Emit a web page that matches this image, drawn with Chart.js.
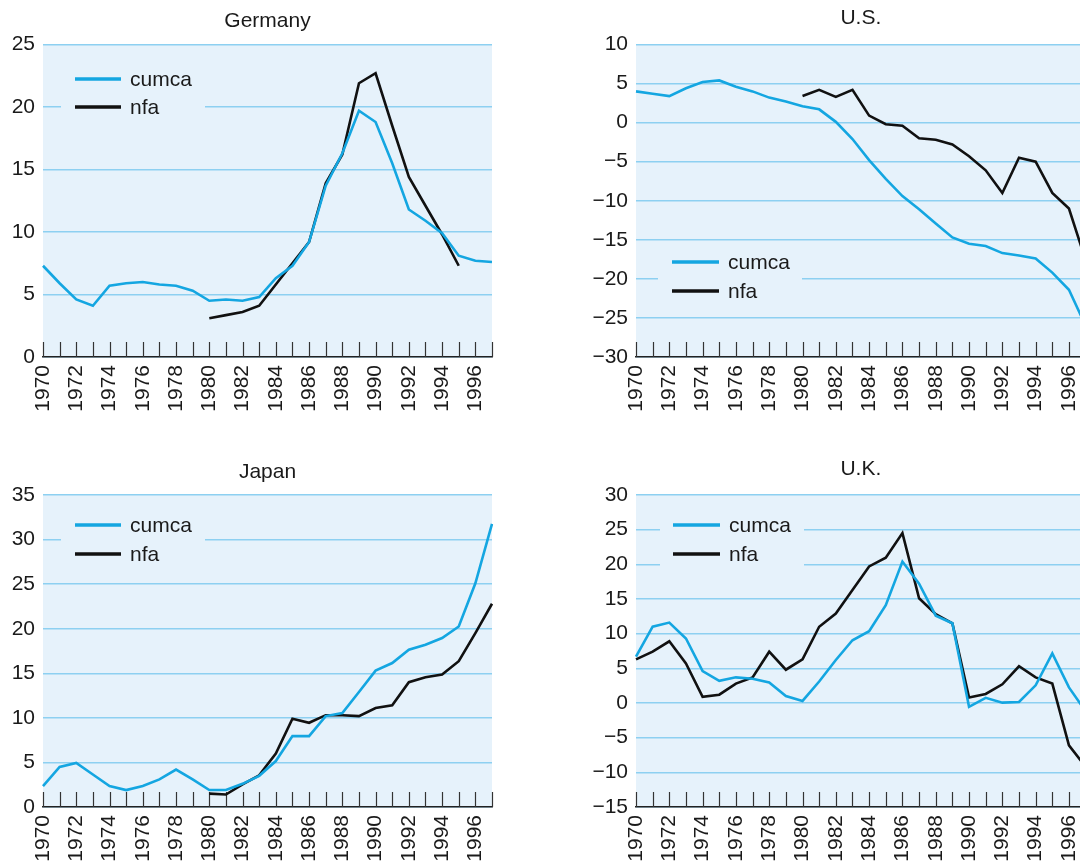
<!DOCTYPE html>
<html>
<head>
<meta charset="utf-8">
<script src="https://cdn.jsdelivr.net/npm/chart.js@4"></script>
<style>
html, body { margin:0; padding:0; background:#fff; width:1080px; height:863px; overflow:hidden; }
canvas { position:absolute; }
</style>
</head>
<body>
<canvas id="de" width="540" height="430" style="left:0;top:0"></canvas>
<canvas id="us" width="560" height="430" style="left:540px;top:0"></canvas>
<canvas id="jp" width="540" height="430" style="left:0;top:450px"></canvas>
<canvas id="uk" width="560" height="430" style="left:540px;top:450px"></canvas>
<script>
// ---- data ----
const years = ['1970','1971','1972','1973','1974','1975','1976','1977','1978','1979',
               '1980','1981','1982','1983','1984','1985','1986','1987','1988','1989',
               '1990','1991','1992','1993','1994','1995','1996','1997'];
const seriesNames = ['cumca', 'nfa'];
const panelTitles = ['Germany', 'U.S.', 'Japan', 'U.K.'];

const germanyCumca = [7.3, 5.9, 4.6, 4.1, 5.7, 5.9, 6.0, 5.8, 5.7, 5.3,
                      4.5, 4.6, 4.5, 4.8, 6.3, 7.3, 9.2, 13.7, 16.3, 19.7,
                      18.8, 15.5, 11.8, 10.9, 9.9, 8.1, 7.7, 7.6];
const germanyNfa   = [null, null, null, null, null, null, null, null, null, null,
                      3.1, 3.35, 3.6, 4.1, 5.8, 7.5, 9.2, 13.9, 16.2, 21.9,
                      22.7, 18.5, 14.4, 12.1, 9.8, 7.3, null, null];

const usCumca = [4.0, 3.7, 3.4, 4.4, 5.2, 5.4, 4.6, 4.0, 3.2, 2.7,
                 2.1, 1.7, 0.1, -2.1, -4.8, -7.2, -9.4, -11.1, -12.9, -14.7,
                 -15.5, -15.8, -16.7, -17.0, -17.4, -19.2, -21.4, -26.0];
const usNfa   = [null, null, null, null, null, null, null, null, null, null,
                 3.4, 4.2, 3.3, 4.2, 0.9, -0.2, -0.4, -2.0, -2.2, -2.8,
                 -4.3, -6.1, -9.0, -4.5, -5.0, -9.0, -11.0, -17.6];

const japanCumca = [2.35, 4.5, 4.95, 3.65, 2.35, 1.9, 2.35, 3.1, 4.2, 3.1,
                    1.9, 1.9, 2.6, 3.5, 5.15, 7.95, 7.95, 10.2, 10.55, 12.9,
                    15.3, 16.15, 17.65, 18.2, 18.95, 20.25, 25.1, 31.75];
const japanNfa   = [null, null, null, null, null, null, null, null, null, null,
                    1.5, 1.4, 2.55, 3.55, 6.0, 9.9, 9.45, 10.3, 10.3, 10.2,
                    11.1, 11.4, 14.0, 14.55, 14.85, 16.35, 19.5, 22.8];

const ukCumca = [6.7, 11.0, 11.6, 9.3, 4.6, 3.2, 3.7, 3.5, 2.95, 1.0,
                 0.3, 3.1, 6.2, 9.05, 10.35, 14.1, 20.4, 17.2, 12.6, 11.5,
                 -0.55, 0.75, 0.05, 0.15, 2.55, 7.15, 2.25, -1.2];
const ukNfa   = [6.3, 7.4, 8.9, 5.7, 0.9, 1.2, 2.8, 3.7, 7.4, 4.8,
                 6.3, 11.0, 12.9, 16.3, 19.7, 20.95, 24.5, 15.1, 12.8, 11.5,
                 0.8, 1.3, 2.7, 5.3, 3.7, 2.8, -6.1, -9.2];

const yMinMax = { de:[0,25], us:[-30,10], jp:[0,35], uk:[-15,30] };

// ---- styles ----
const FONT = "'Liberation Sans', Arial, Helvetica, sans-serif";
const BG = '#e6f2fb';
const GRID = '#8dd0f1';
const BLUE = '#14a6e1';
const BLACK = '#111111';
const TEXT = '#1a1a1a';

function makeChart(id, title, cumca, nfa, range, lay) {
  const plugin = {
    id: 'deco_' + id,
    beforeDraw(chart) {
      const {ctx, chartArea: a} = chart;
      ctx.save();
      ctx.fillStyle = BG;
      ctx.fillRect(a.left, a.top, a.right - a.left, a.bottom - a.top);
      ctx.restore();
    },
    beforeDatasetsDraw(chart) {
      const {ctx, chartArea: a} = chart;
      const xs = chart.scales.x;
      ctx.save();
      // legend box hiding gridlines
      ctx.fillStyle = BG;
      ctx.fillRect(lay.box[0], lay.box[1], lay.box[2] - lay.box[0], lay.box[3] - lay.box[1]);
      // tick marks pointing up inside the plot
      ctx.strokeStyle = '#333';
      ctx.lineWidth = 1.2;
      for (let i = 0; i < years.length; i++) {
        const x = Math.round(xs.getPixelForValue(i)) + 0.5;
        ctx.beginPath();
        ctx.moveTo(x, a.bottom);
        ctx.lineTo(x, a.bottom - 15);
        ctx.stroke();
      }
      ctx.restore();
    },
    afterDraw(chart) {
      const {ctx, chartArea: a} = chart;
      ctx.save();
      // title
      ctx.fillStyle = TEXT;
      ctx.font = '21px ' + FONT;
      ctx.textAlign = 'center';
      ctx.textBaseline = 'alphabetic';
      ctx.fillText(title, (a.left + a.right) / 2, lay.titleY);
      // legend
      chart.data.datasets.forEach((ds, i) => {
        const y = lay.legY[i];
        ctx.strokeStyle = ds.borderColor;
        ctx.lineWidth = 3.5;
        ctx.beginPath();
        ctx.moveTo(lay.legX[0], y);
        ctx.lineTo(lay.legX[1], y);
        ctx.stroke();
        ctx.fillStyle = TEXT;
        ctx.textAlign = 'left';
        ctx.textBaseline = 'middle';
        ctx.fillText(ds.label, lay.legX[2], y + 1);
      });
      ctx.restore();
    }
  };

  return new Chart(document.getElementById(id), {
    type: 'line',
    data: {
      labels: years,
      datasets: [
        { label: seriesNames[0], data: cumca, borderColor: BLUE, borderWidth: 2.6,
          pointRadius: 0, tension: 0, spanGaps: false, fill: false },
        { label: seriesNames[1], data: nfa, borderColor: BLACK, borderWidth: 2.6,
          pointRadius: 0, tension: 0, spanGaps: false, fill: false }
      ]
    },
    options: {
      responsive: false,
      animation: false,
      devicePixelRatio: 1,
      layout: { padding: { top: lay.top, left: 0, right: lay.right, bottom: 13 } },
      plugins: { legend: { display: false }, title: { display: false }, tooltip: { enabled: false } },
      scales: {
        x: {
          type: 'category',
          offset: false,
          grid: { display: false, drawTicks: false },
          border: { display: true, color: '#222', width: 1.6 },
          ticks: {
            autoSkip: false, maxRotation: 90, minRotation: 90, padding: 8,
            color: TEXT, font: { family: FONT, size: 21 },
            callback: function (v) { const l = this.getLabelForValue(v); return (+l % 2 === 0) ? l : ''; }
          },
          afterFit(s) { s.height = 60; s.paddingLeft = 0; s.paddingRight = 0; }
        },
        y: {
          min: range[0], max: range[1],
          grid: { color: GRID, lineWidth: 1.5, drawTicks: false },
          border: { display: false },
          ticks: {
            stepSize: 5, padding: 8, color: TEXT, font: { family: FONT, size: 21 },
            callback: (v) => String(v).replace('-', '\u2212')
          },
          afterFit(s) { s.width = lay.yw; }
        }
      }
    },
    plugins: [plugin]
  });
}

makeChart('de', panelTitles[0], germanyCumca, germanyNfa, yMinMax.de,
  { top: 44.5, right: 48, yw: 43, titleY: 27, box: [61, 58, 205, 127], legY: [79, 107], legX: [75, 121, 130] });
makeChart('us', panelTitles[1], usCumca, usNfa, yMinMax.us,
  { top: 44.5, right: 14.4, yw: 96, titleY: 24, box: [118, 246, 262, 310], legY: [262, 291], legX: [132, 179, 188] });
makeChart('jp', panelTitles[2], japanCumca, japanNfa, yMinMax.jp,
  { top: 45, right: 48, yw: 43, titleY: 28, box: [61, 58, 205, 125], legY: [75, 104], legX: [75, 121, 130] });
makeChart('uk', panelTitles[3], ukCumca, ukNfa, yMinMax.uk,
  { top: 45, right: 14.4, yw: 96, titleY: 25, box: [120, 58, 264, 128], legY: [75, 104], legX: [133, 180, 189] });
</script>
</body>
</html>
